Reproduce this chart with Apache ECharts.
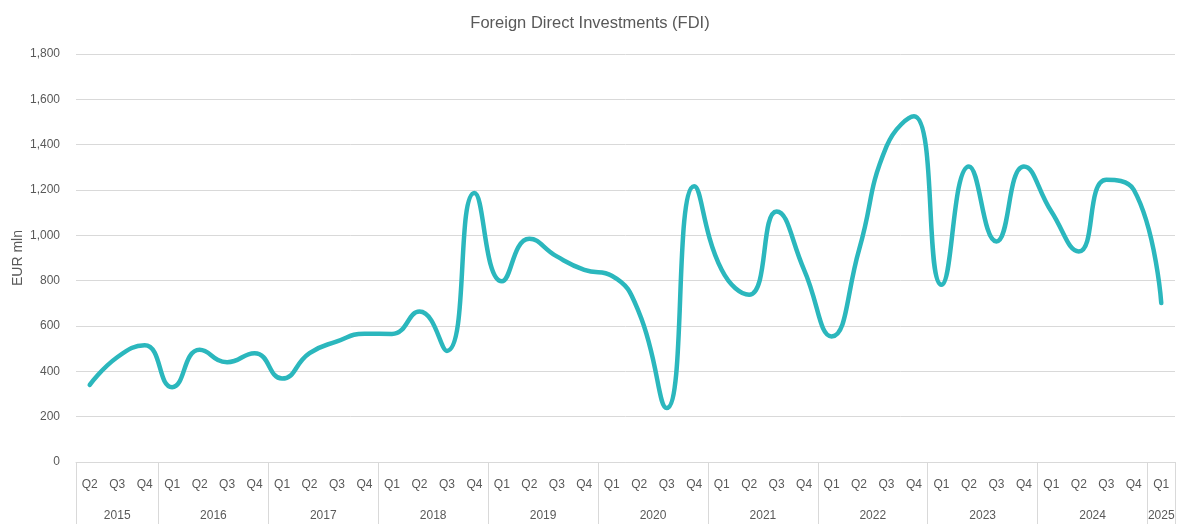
<!DOCTYPE html>
<html>
<head>
<meta charset="utf-8">
<title>Foreign Direct Investments (FDI)</title>
<script src="https://cdn.jsdelivr.net/npm/echarts@6/dist/echarts.min.js"></script>
<style>
    html, body { margin: 0; padding: 0; background: #ffffff; }
    #main { width: 1180px; height: 524px; }
</style>
</head>
<body>
<div id="main"></div>
<script>
// quarters, 2015 Q2 .. 2025 Q1
var quarters = ['Q2', 'Q3', 'Q4',
    'Q1', 'Q2', 'Q3', 'Q4', 'Q1', 'Q2', 'Q3', 'Q4', 'Q1', 'Q2', 'Q3', 'Q4',
    'Q1', 'Q2', 'Q3', 'Q4', 'Q1', 'Q2', 'Q3', 'Q4', 'Q1', 'Q2', 'Q3', 'Q4',
    'Q1', 'Q2', 'Q3', 'Q4', 'Q1', 'Q2', 'Q3', 'Q4', 'Q1', 'Q2', 'Q3', 'Q4',
    'Q1'];
var years = ['2015', '2016', '2017', '2018', '2019', '2020', '2021', '2022', '2023', '2024', '2025'];
var quartersPerYear = [3, 4, 4, 4, 4, 4, 4, 4, 4, 4, 1];

// EUR mln
var fdi = [340, 462, 515,
    330, 495, 440, 480,
    368, 480, 532, 566,
    565, 664, 490, 1187,
    797, 985, 907, 848,
    822, 657, 238, 1216,
    848, 738, 1105, 848,
    554, 936, 1392, 1525,
    782, 1304, 973, 1304,
    1105, 929, 1245, 1201,
    701];

var yTicks = [0, 200, 400, 600, 800, 1000, 1200, 1400, 1600, 1800];

// year group boundaries and centres on a 0..n value scale
var yearEdges = [0];
var yearCenters = [];
quartersPerYear.forEach(function (n, i) {
    var start = yearEdges[i];
    yearCenters.push(start + n / 2);
    yearEdges.push(start + n);
});

var textColor = '#595959';
var lineGrey = '#d9d9d9';
var fontName = 'Liberation Sans, Arial, sans-serif';

var myChart = echarts.init(document.getElementById('main'), null, { renderer: 'canvas' });

var option = {
    animation: false,
    backgroundColor: '#ffffff',
    textStyle: { fontFamily: fontName },
    title: {
        text: 'Foreign Direct Investments (FDI)',
        left: 'center',
        top: 10,
        textStyle: {
            color: textColor,
            fontSize: 16.5,
            fontWeight: 'normal',
            fontFamily: fontName
        }
    },
    grid: {
        left: 76,
        right: 5,
        top: 54,
        bottom: 62,
        containLabel: false,
        outerBoundsMode: 'none'
    },
    xAxis: [
        {
            type: 'category',
            data: quarters,
            boundaryGap: true,
            axisLine: { show: true, lineStyle: { color: lineGrey, width: 1 } },
            axisTick: { show: false },
            axisLabel: {
                color: textColor,
                fontSize: 12,
                margin: 17,
                interval: 0
            },
            splitLine: { show: false }
        },
        {
            type: 'value',
            position: 'bottom',
            min: 0,
            max: quarters.length,
            axisLine: { show: false },
            axisTick: {
                show: true,
                length: 62,
                customValues: yearEdges,
                lineStyle: { color: lineGrey, width: 1 }
            },
            axisLabel: {
                show: true,
                customValues: yearCenters,
                color: textColor,
                fontSize: 12,
                margin: 48,
                formatter: function (v) {
                    var k = yearCenters.indexOf(v);
                    return k >= 0 ? years[k] : '';
                }
            },
            splitLine: { show: false }
        }
    ],
    yAxis: {
        type: 'value',
        min: yTicks[0],
        max: yTicks[yTicks.length - 1],
        interval: 200,
        name: 'EUR mln',
        nameLocation: 'middle',
        nameGap: 51,
        nameMoveOverlap: false,
        nameTextStyle: { color: textColor, fontSize: 14 },
        axisLine: { show: false },
        axisTick: { show: false },
        axisLabel: {
            color: textColor,
            fontSize: 12,
            margin: 16,
            formatter: function (v) {
                return v.toLocaleString('en-US');
            }
        },
        splitLine: { show: true, lineStyle: { color: lineGrey, width: 1 } }
    },
    series: [{
        name: 'FDI',
        type: 'line',
        xAxisIndex: 0,
        data: fdi,
        smooth: 0.5,
        showSymbol: false,
        symbol: 'none',
        lineStyle: { color: '#2bb7bd', width: 4.5, cap: 'round', join: 'round' },
        itemStyle: { color: '#2bb7bd' }
    }]
};

myChart.setOption(option);
</script>
</body>
</html>
